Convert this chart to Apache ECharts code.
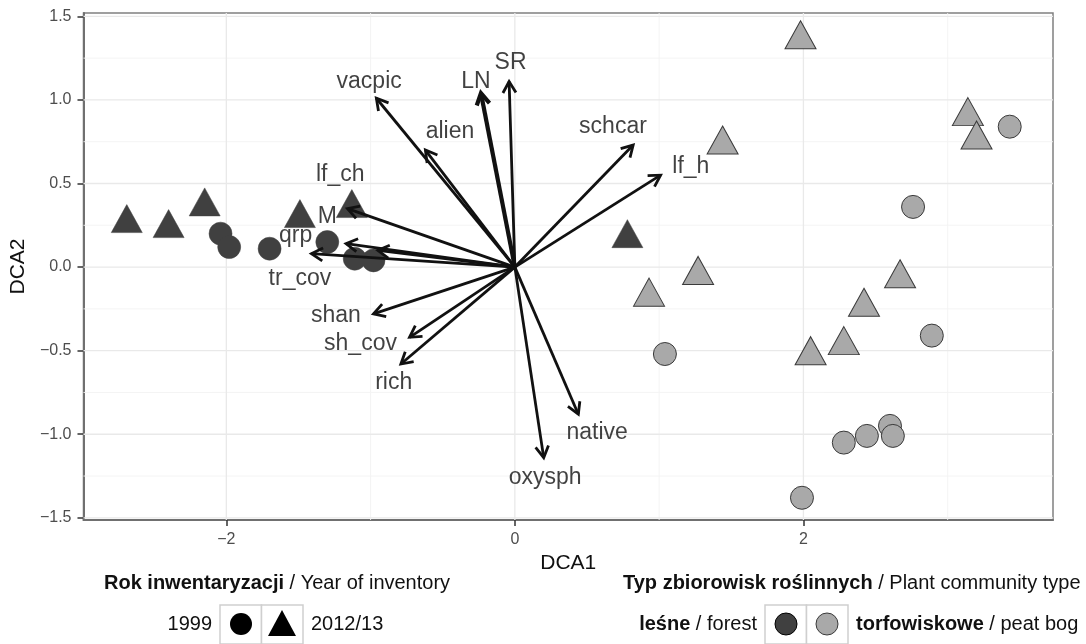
<!DOCTYPE html>
<html><head><meta charset="utf-8">
<script src="https://cdn.jsdelivr.net/npm/echarts@6/dist/echarts.min.js"></script>
<style>html,body{margin:0;padding:0;background:#fff}#c{width:1086px;height:644px}</style>
</head><body><div id="c"></div>
<script>
// ---- data ----
const forest1999 = [[-2.04,0.20],[-1.98,0.12],[-1.70,0.11],[-1.30,0.15],[-1.11,0.05],[-0.98,0.04]];
const forest2012 = [[-2.69,0.29],[-2.40,0.26],[-2.15,0.39],[-1.49,0.32],[-1.13,0.38],[0.78,0.20]];
const bog1999 = [[3.43,0.84],[2.76,0.36],[2.89,-0.41],[1.04,-0.52],[2.28,-1.05],[2.44,-1.01],[2.60,-0.95],[2.62,-1.01],[1.99,-1.38]];
const bog2012 = [[1.98,1.39],[1.44,0.76],[3.14,0.93],[3.20,0.79],[0.93,-0.15],[1.27,-0.02],[2.42,-0.21],[2.67,-0.04],[2.05,-0.50],[2.28,-0.44]];
const vectorNames = ['vacpic','alien','LN','SR','schcar','lf_h','lf_ch','M','qrp','tr_cov','shan','sh_cov','rich','native','oxysph'];
const vectorX = [-0.96,-0.62,-0.235,-0.04,0.82,1.01,-1.16,-1.17,-0.95,-1.41,-0.98,-0.73,-0.79,0.44,0.20];
const vectorY = [1.01,0.70,1.04,1.11,0.73,0.55,0.35,0.14,0.10,0.08,-0.28,-0.42,-0.58,-0.88,-1.14];
const labelX = [-1.01,-0.45,-0.27,-0.03,0.68,1.22,-1.21,-1.30,-1.52,-1.49,-1.24,-1.07,-0.84,0.57,0.21];
const labelY = [1.11,0.81,1.11,1.22,0.84,0.60,0.55,0.30,0.19,-0.07,-0.29,-0.46,-0.69,-0.99,-1.26];
const xTicks = [-2,0,2];
const yTicks = [-1.5,-1,-0.5,0,0.5,1,1.5];
const xMinor = [-1,1,3];
const yMinor = [-1.25,-0.75,-0.25,0.25,0.75,1.25];

const DARK = '#404040', LIGHT = '#a9a9a9', INK = '#111';
const FONT = 'Liberation Sans';
const chart = echarts.init(document.getElementById('c'));

function gridRender(isX, major) {
  return function(params, api) {
    const cs = params.coordSys;
    const v = api.value(0);
    let shape;
    if (isX) { const p = api.coord([v, 0]); shape = {x1:p[0], y1:cs.y, x2:p[0], y2:cs.y+cs.height}; }
    else { const p = api.coord([0, v]); shape = {x1:cs.x, y1:p[1], x2:cs.x+cs.width, y2:p[1]}; }
    return {type:'line', shape, style:{stroke: major ? '#e9e9e9' : '#f3f3f3', lineWidth: major ? 1.3 : 0.9}};
  };
}
function arrowRender(params, api) {
  const o = api.coord([0,0]);
  const t = api.coord([api.value(0), api.value(1)]);
  const ang = Math.atan2(t[1]-o[1], t[0]-o[0]);
  const L = 13, a = Math.PI/6;
  const p1 = [t[0]-L*Math.cos(ang-a), t[1]-L*Math.sin(ang-a)];
  const p2 = [t[0]-L*Math.cos(ang+a), t[1]-L*Math.sin(ang+a)];
  const w = vectorNames[params.dataIndex] === 'LN' ? 4.2 : 2.8;
  return {type:'group', children:[
    {type:'line', shape:{x1:o[0],y1:o[1],x2:t[0],y2:t[1]}, style:{stroke:INK, lineWidth:w}},
    {type:'polyline', shape:{points:[p1,t,p2]}, style:{stroke:INK, lineWidth:w, fill:null}}
  ]};
}
const rich20 = {b:{fontWeight:'bold', fontSize:20, fontFamily:FONT, fill:INK}, n:{fontSize:20, fontFamily:FONT, fill:INK}};

const option = {
  animation: false,
  backgroundColor: '#fff',
  grid: {left: 82, right: 33, top: 13, bottom: 124, show: true, borderColor: '#808080', borderWidth: 1.5, backgroundColor: '#fff'},
  xAxis: {
    type: 'value', min: -2.99, max: 3.73,
    name: 'DCA1', nameLocation: 'middle', nameGap: 30,
    nameTextStyle: {fontFamily: FONT, fontSize: 21, color: INK},
    axisLine: {show: true, onZero: false, lineStyle: {color: '#707070', width: 2}},
    axisTick: {show: true, length: 6, lineStyle: {color: '#333', width: 1.5}, customValues: xTicks},
    axisLabel: {margin: 12, fontFamily: FONT, fontSize: 16, color: '#4d4d4d', customValues: xTicks,
      formatter: v => (v < 0 ? '\u2212' : '') + Math.abs(v)},
    splitLine: {show: false}
  },
  yAxis: {
    type: 'value', min: -1.513, max: 1.52,
    name: 'DCA2', nameLocation: 'middle', nameGap: 52,
    nameTextStyle: {fontFamily: FONT, fontSize: 21, color: INK},
    axisLine: {show: true, onZero: false, lineStyle: {color: '#707070', width: 2}},
    axisTick: {show: true, length: 6, lineStyle: {color: '#333', width: 1.5}, customValues: yTicks},
    axisLabel: {margin: 12, fontFamily: FONT, fontSize: 16, color: '#4d4d4d', customValues: yTicks,
      formatter: v => (v < 0 ? '\u2212' : '') + Math.abs(v).toFixed(1)},
    splitLine: {show: false}
  },
  series: [
    {type:'custom', z:1, silent:true, clip:true, renderItem: gridRender(true,false), data: xMinor.map(v=>[v])},
    {type:'custom', z:1, silent:true, clip:true, renderItem: gridRender(false,false), data: yMinor.map(v=>[v])},
    {type:'custom', z:1, silent:true, clip:true, renderItem: gridRender(true,true), data: xTicks.map(v=>[v])},
    {type:'custom', z:1, silent:true, clip:true, renderItem: gridRender(false,true), data: yTicks.map(v=>[v])},
    {type:'scatter', z:3, symbol:'circle', symbolSize:23, data: forest1999, itemStyle:{color:DARK, borderColor:DARK, borderWidth:0.5, opacity:1}},
    {type:'scatter', z:3, symbol:'triangle', symbolSize:[31,28], data: forest2012, itemStyle:{color:DARK, borderColor:DARK, borderWidth:0.5, opacity:1}},
    {type:'scatter', z:3, symbol:'circle', symbolSize:23, data: bog1999, itemStyle:{color:LIGHT, borderColor:'#3a3a3a', borderWidth:1, opacity:1}},
    {type:'scatter', z:3, symbol:'triangle', symbolSize:[31,28], data: bog2012, itemStyle:{color:LIGHT, borderColor:'#3a3a3a', borderWidth:1, opacity:1}},
    {type:'custom', z:4, silent:true, renderItem: arrowRender, data: vectorX.map((x,i)=>[x, vectorY[i]])},
    {type:'scatter', z:5, silent:true, symbolSize: 0,
      data: labelX.map((x,i)=>({value:[x, labelY[i]], name: vectorNames[i]})),
      label: {show:true, position:'inside', formatter: p => p.name, fontFamily:FONT, fontSize:23, color:INK}}
  ],
  graphic: [
    {type:'text', x: 104, y: 583, style:{rich:rich20, text:'{b|Rok inwentaryzacji}{n| / Year of inventory}', verticalAlign:'middle'}},
    {type:'text', x: 212, y: 624, style:{text:'1999', font:'20px "Liberation Sans"', fill:INK, align:'right', verticalAlign:'middle'}},
    {type:'rect', shape:{x:220, y:605, width:41.5, height:39}, style:{fill:'#fff', stroke:'#cfcfcf', lineWidth:1.5}},
    {type:'rect', shape:{x:261.5, y:605, width:41.5, height:39}, style:{fill:'#fff', stroke:'#cfcfcf', lineWidth:1.5}},
    {type:'circle', shape:{cx:241, cy:624, r:11}, style:{fill:'#000'}},
    {type:'polygon', shape:{points:[[282,610],[296,636],[268,636]]}, style:{fill:'#000'}},
    {type:'text', x: 311, y: 624, style:{text:'2012/13', font:'20px "Liberation Sans"', fill:INK, align:'left', verticalAlign:'middle'}},

    {type:'text', x: 623, y: 583, style:{rich:rich20, text:'{b|Typ zbiorowisk roślinnych}{n| / Plant community type}', verticalAlign:'middle'}},
    {type:'text', x: 757, y: 624, style:{rich:rich20, text:'{b|leśne}{n| / forest}', align:'right', verticalAlign:'middle'}},
    {type:'rect', shape:{x:765, y:605, width:41.5, height:39}, style:{fill:'#fff', stroke:'#cfcfcf', lineWidth:1.5}},
    {type:'rect', shape:{x:806.5, y:605, width:41.5, height:39}, style:{fill:'#fff', stroke:'#cfcfcf', lineWidth:1.5}},
    {type:'circle', shape:{cx:786, cy:624, r:11}, style:{fill:DARK, stroke:'#000', lineWidth:1}},
    {type:'circle', shape:{cx:827, cy:624, r:11}, style:{fill:LIGHT, stroke:'#3a3a3a', lineWidth:1}},
    {type:'text', x: 856, y: 624, style:{rich:rich20, text:'{b|torfowiskowe}{n| / peat bog}', align:'left', verticalAlign:'middle'}}
  ]
};
chart.setOption(option);
</script>
</body></html>
